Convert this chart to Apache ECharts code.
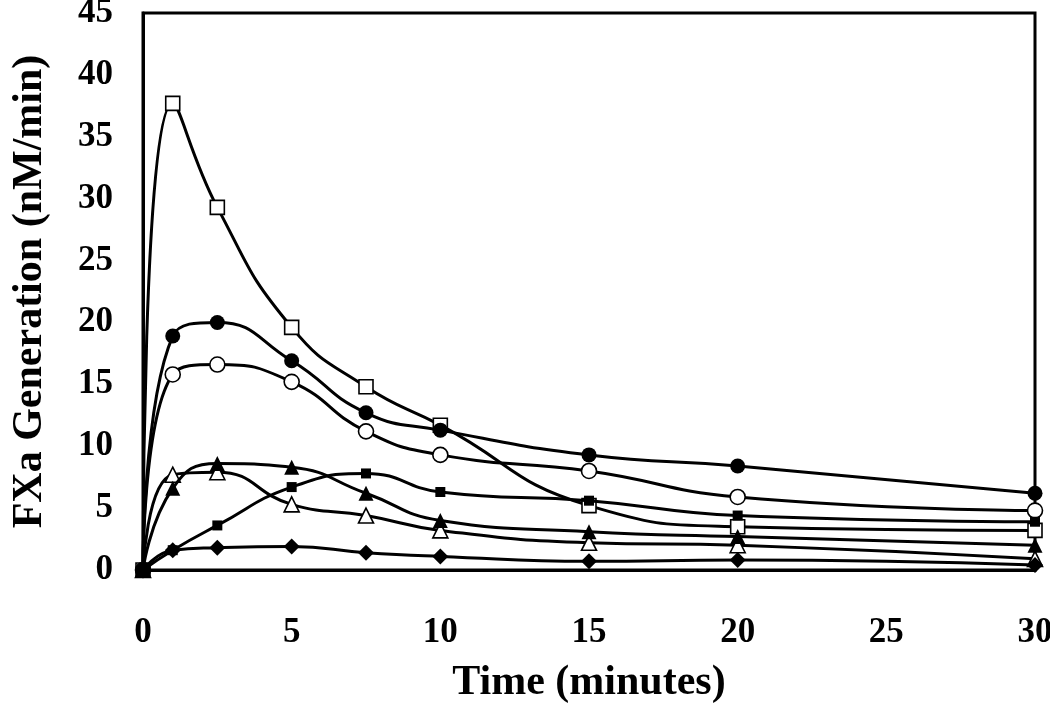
<!DOCTYPE html>
<html>
<head>
<meta charset="utf-8">
<script src="https://cdn.jsdelivr.net/npm/echarts@6/dist/echarts.min.js"></script>
<style>html,body{margin:0;padding:0;background:#fff;}#c{width:1050px;height:709px;}</style>
</head>
<body>
<div id="c"></div>
<script>
var times = [0, 1, 2.5, 5, 7.5, 10, 15, 20, 30];
var openSquare     = [0, 37.7, 29.3, 19.6, 14.8, 11.7, 5.2, 3.5, 3.2];
var filledCircle   = [0, 18.9, 20.0, 16.9, 12.7, 11.3, 9.3, 8.4, 6.2];
var openCircle     = [0, 15.8, 16.6, 15.2, 11.2, 9.3, 8.0, 5.9, 4.8];
var filledTriangle = [0, 6.6, 8.6, 8.3, 6.2, 4.0, 3.1, 2.7, 2.0];
var openTriangle   = [0, 7.7, 7.9, 5.3, 4.4, 3.2, 2.2, 2.0, 0.9];
var filledSquare   = [0, 1.6, 3.6, 6.7, 7.8, 6.3, 5.6, 4.4, 3.9];
var filledDiamond  = [0, 1.6, 1.8, 1.9, 1.4, 1.1, 0.7, 0.8, 0.4];

function pairs(vals){ return times.map(function(t,i){ return [t, vals[i]]; }); }
function mk(name, vals, symbol, size, filled){
  return {
    name: name, type: 'line', data: pairs(vals), smooth: 0.5,
    symbol: symbol, symbolSize: size, showSymbol: true,
    lineStyle: {color: '#000', width: 3},
    itemStyle: {color: filled ? '#000' : '#fff', borderColor: '#000', borderWidth: filled ? 0 : 1.6},
    emphasis: {disabled: true}, z: filled ? 3 : 2
  };
}
var font = '"Liberation Serif", "Times New Roman", serif';
var chart = echarts.init(document.getElementById('c'));
chart.setOption({
  animation: false,
  backgroundColor: '#fff',
  grid: {left: 143, right: 15, top: 13, bottom: 139, show: true, borderColor: '#000', borderWidth: 3, backgroundColor: 'transparent', containLabel: false, outerBoundsMode: 'none'},
  xAxis: {
    type: 'value', min: 0, max: 30, interval: 5,
    name: 'Time (minutes)', nameLocation: 'middle', nameGap: 92,
    nameTextStyle: {fontFamily: font, fontWeight: 'bold', fontSize: 42, color: '#000'},
    axisLine: {show: true, lineStyle: {color: '#000', width: 3}},
    axisTick: {show: false},
    axisLabel: {fontFamily: font, fontWeight: 'bold', fontSize: 35, color: '#000', margin: 45},
    splitLine: {show: false}
  },
  yAxis: {
    type: 'value', min: 0, max: 45, interval: 5,
    name: 'FXa Generation (nM/min)', nameLocation: 'middle', nameGap: 92,
    nameTextStyle: {fontFamily: font, fontWeight: 'bold', fontSize: 42, color: '#000'},
    axisLine: {show: true, lineStyle: {color: '#000', width: 3}},
    axisTick: {show: false},
    axisLabel: {fontFamily: font, fontWeight: 'bold', fontSize: 35, color: '#000', margin: 30},
    splitLine: {show: false}
  },
  series: [
    mk('openSquare', openSquare, 'rect', 14, false),
    mk('filledCircle', filledCircle, 'circle', 15, true),
    mk('openCircle', openCircle, 'circle', 15, false),
    mk('filledTriangle', filledTriangle, 'triangle', 15, true),
    mk('openTriangle', openTriangle, 'triangle', 15, false),
    mk('filledSquare', filledSquare, 'rect', 10, true),
    mk('filledDiamond', filledDiamond, 'diamond', 16, true)
  ]
});
</script>
</body>
</html>
